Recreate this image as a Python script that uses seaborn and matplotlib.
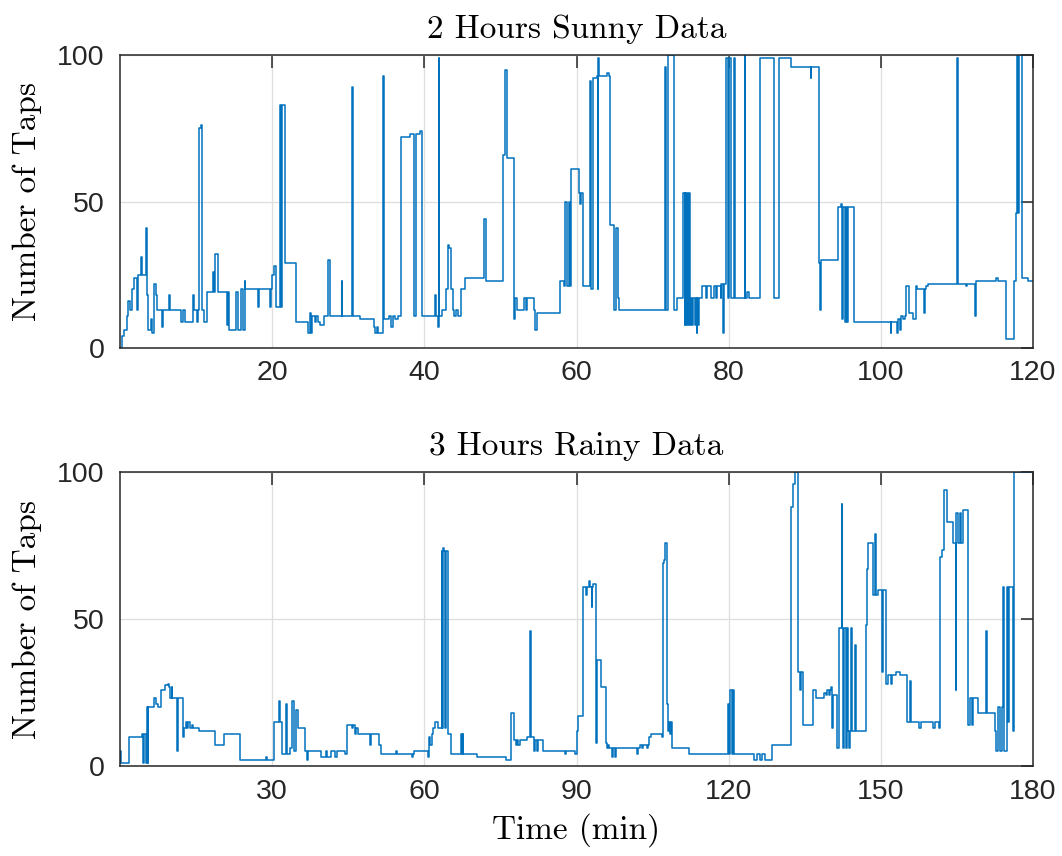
import matplotlib
matplotlib.use("Agg")
import matplotlib.pyplot as plt
import pandas as pd
import seaborn as sns

# Tap counts logged over time (step changes), sunny session
sunny_min = [
    0.0, 0.22, 0.57, 0.87, 1.09, 1.31, 1.62, 1.88, 2.19, 2.41,
    2.76, 2.93, 3.41, 3.50, 3.72, 4.07, 4.24, 4.50, 4.68, 4.81,
    5.47, 5.69, 6.43, 6.56, 8.00, 8.22, 8.53, 9.54, 9.67, 10.06,
    10.28, 10.41, 10.63, 10.80, 11.07, 11.46, 12.16, 12.34, 12.47, 12.90,
    14.00, 14.22, 14.30, 15.31, 15.53, 15.88, 16.19, 16.40, 16.49, 18.15,
    18.24, 19.69, 19.82, 19.99, 20.25, 20.56, 21.00, 21.22, 21.30, 21.74,
    23.14, 24.72, 24.93, 25.15, 25.28, 25.59, 25.81, 26.03, 26.25, 26.82,
    27.34, 27.56, 29.13, 29.22, 30.49, 30.62, 31.50, 33.38, 33.55, 33.75,
    33.90, 34.56, 34.69, 35.30, 35.65, 35.85, 36.10, 36.50, 36.97, 38.10,
    38.58, 38.89, 39.40, 39.72, 41.43, 41.55, 41.75, 41.87, 41.99, 42.35,
    42.80, 43.09, 43.30, 43.44, 43.75, 43.90, 44.20, 44.40, 44.84, 45.28,
    47.90, 48.08, 50.31, 50.61, 50.83, 51.84, 51.97, 52.20, 53.15, 53.37,
    53.50, 54.40, 54.55, 54.80, 57.88, 58.40, 58.53, 58.75, 58.97, 59.10,
    59.27, 60.37, 60.48, 60.58, 60.89, 61.81, 61.90, 62.12, 62.68, 62.77,
    62.86, 62.99, 63.95, 64.30, 64.43, 64.87, 64.96, 65.18, 65.48, 65.62,
    71.61, 71.74, 72.05, 72.75, 73.18, 74.06, 74.20, 74.30, 74.45, 74.55,
    74.70, 74.80, 74.93, 75.02, 75.20, 75.35, 75.60, 75.75, 75.81, 75.90,
    76.00, 76.10, 76.55, 77.08, 77.21, 77.73, 78.08, 78.30, 78.52, 78.96,
    79.05, 79.31, 79.40, 79.70, 79.92, 80.05, 80.27, 80.71, 80.88, 82.11,
    82.20, 82.46, 82.68, 84.08, 85.96, 86.57, 88.23, 90.77, 90.86, 91.87,
    92.00, 92.10, 94.40, 94.71, 94.93, 95.06, 95.24, 95.37, 95.50, 95.67,
    96.46, 101.27, 101.40, 102.06, 102.24, 102.46, 102.68, 102.94, 103.16, 103.29,
    103.68, 104.25, 104.60, 104.78, 105.65, 105.74, 106.00, 106.17, 110.07, 110.20,
    111.20, 111.30, 112.43, 112.56, 115.18, 115.40, 116.50, 117.55, 117.77, 117.90,
    118.03, 118.16, 118.55, 119.30, 120.00,
]
sunny_taps = [
    0, 4, 6, 11, 16, 13, 20, 24, 13, 25,
    31, 25, 41, 18, 6, 10, 5, 22, 18, 13,
    7, 13, 18, 13, 9, 13, 9, 18, 13, 9,
    13, 75, 76, 13, 9, 19, 26, 19, 32, 19,
    8, 19, 6, 19, 6, 20, 6, 23, 20, 14,
    20, 14, 20, 25, 28, 14, 83, 14, 83, 29,
    9, 5, 12, 5, 11, 9, 11, 9, 8, 11,
    30, 11, 23, 11, 89, 11, 10, 7, 5, 7,
    5, 93, 10, 11, 7, 11, 10, 11, 72, 73,
    11, 73, 74, 11, 18, 11, 7, 99, 11, 13,
    20, 35, 34, 20, 13, 11, 13, 11, 20, 24,
    44, 23, 66, 95, 65, 10, 17, 13, 17, 13,
    17, 13, 6, 12, 23, 21, 50, 21, 50, 21,
    61, 53, 49, 53, 21, 91, 20, 92, 93, 20,
    99, 93, 94, 93, 42, 41, 13, 41, 17, 13,
    96, 13, 100, 13, 17, 53, 8, 53, 8, 53,
    8, 53, 8, 17, 8, 17, 8, 17, 5, 17,
    8, 17, 21, 17, 21, 17, 21, 17, 21, 17,
    22, 5, 22, 99, 17, 99, 17, 99, 17, 100,
    17, 19, 17, 99, 17, 99, 96, 92, 96, 29,
    13, 30, 48, 49, 10, 48, 9, 48, 9, 48,
    9, 5, 9, 5, 10, 6, 11, 10, 11, 21,
    12, 10, 21, 20, 12, 20, 21, 22, 99, 22,
    21, 22, 11, 23, 24, 23, 3, 23, 46, 100,
    46, 100, 24, 23, 23,
]

# Tap counts logged over time (step changes), rainy session
rainy_min = [
    0.00, 0.07, 0.20, 1.77, 4.40, 4.60, 4.80, 5.12, 5.26, 5.45,
    5.58, 6.77, 7.10, 7.55, 8.02, 8.87, 9.53, 9.73, 9.86, 10.20,
    10.32, 11.30, 11.50, 12.35, 12.62, 12.95, 13.21, 13.47, 13.73, 14.10,
    14.45, 15.57, 18.73, 20.57, 23.59, 28.80, 28.95, 30.29, 31.40, 31.53,
    31.86, 32.80, 32.93, 33.45, 34.00, 34.26, 34.70, 35.03, 36.46, 36.80,
    37.10, 39.60, 40.54, 40.86, 41.60, 42.38, 42.70, 44.35, 44.68, 45.80,
    46.00, 46.32, 46.52, 46.85, 49.28, 49.41, 51.12, 51.45, 54.47, 54.60,
    57.49, 57.69, 58.02, 60.64, 60.90, 61.17, 61.43, 61.76, 62.10, 62.75,
    63.40, 63.50, 63.73, 63.93, 64.06, 64.26, 64.65, 65.18, 67.15, 67.35,
    67.54, 67.67, 70.30, 76.08, 77.00, 77.73, 77.99, 78.19, 78.52, 78.84,
    80.16, 80.82, 80.95, 81.60, 81.80, 82.13, 82.46, 83.31, 87.72, 87.90,
    89.80, 90.02, 90.20, 91.27, 91.79, 92.00, 92.50, 92.70, 92.98, 93.10,
    93.30, 93.90, 94.09, 94.81, 95.73, 96.06, 96.30, 96.50, 96.92, 97.12,
    97.57, 97.77, 101.98, 102.20, 102.50, 102.83, 103.16, 103.82, 104.15, 104.34,
    104.67, 106.90, 107.10, 107.30, 107.43, 107.89, 108.09, 108.28, 108.42, 108.60,
    108.74, 112.22, 119.90, 120.03, 120.24, 120.57, 120.77, 121.10, 125.04, 125.50,
    126.20, 126.56, 127.14, 128.59, 132.27, 132.73, 133.06, 133.71, 134.04, 134.24,
    134.70, 136.61, 137.13, 138.78, 139.10, 139.37, 139.76, 139.96, 140.15, 140.42,
    140.60, 141.40, 141.80, 142.26, 142.39, 142.59, 142.78, 143.05, 143.24, 143.57,
    143.77, 143.90, 144.10, 144.23, 145.00, 145.20, 146.99, 147.20, 147.50, 148.50,
    148.83, 149.00, 149.50, 150.27, 150.45, 151.06, 151.45, 151.98, 152.24, 152.90,
    153.80, 155.20, 155.73, 155.93, 157.57, 157.90, 160.33, 160.65, 161.50, 161.64,
    161.97, 162.50, 162.95, 164.14, 164.80, 164.90, 165.25, 165.58, 165.90, 166.20,
    167.20, 167.55, 167.88, 168.20, 169.10, 170.80, 171.00, 172.60, 172.80, 173.13,
    173.46, 173.80, 174.10, 174.30, 174.80, 175.10, 175.30, 176.07, 176.20, 180.00,
]
rainy_taps = [
    1, 5, 1, 10, 11, 1, 11, 1, 20, 1,
    20, 23, 21, 20, 26, 27.5, 28, 27, 23, 27,
    23, 5, 23, 10, 13, 15, 13, 15, 13, 14,
    13, 12, 7, 11, 2, 3, 2, 15, 22, 15,
    4, 21, 4, 6, 22, 5, 19, 13, 5, 2,
    5, 3, 5, 3, 5, 3, 5, 4, 14, 13,
    14, 11, 13, 11, 7, 11, 7, 4, 5, 4,
    3, 4, 5, 3, 10, 7, 11, 13, 15, 13,
    73, 13, 74, 73, 13, 73, 11, 4, 11, 4,
    11, 4, 3, 2, 18, 9, 7, 9, 7, 9,
    10, 46, 10, 5, 9, 5, 9, 5, 4, 5,
    4, 12, 17, 61, 58, 61, 63, 61, 54, 61,
    62, 8, 36, 27, 8, 6, 7, 6, 3, 6,
    3, 6, 4, 6, 7, 6, 7, 6, 7, 10,
    11, 10, 69, 70, 76, 21, 12, 15, 11, 15,
    6, 4, 21, 4, 26, 4, 26, 4, 2, 4,
    2, 4, 2, 7, 88, 96, 100, 32, 26, 32,
    14, 26, 23, 25, 24, 26, 24, 26, 27, 13,
    24, 6, 47, 89, 47, 6, 47, 6, 47, 12,
    6, 12, 47, 12, 41, 12, 48, 67, 76, 58,
    79, 58, 60, 32, 60, 28, 31, 28, 31, 32,
    31, 15, 29, 15, 13, 15, 13, 15, 13, 71,
    73.5, 94, 83, 76, 26, 86, 76, 86, 76, 87,
    14, 23, 14, 23, 18, 46, 18, 12, 5, 20,
    5, 20, 61, 5, 61, 15, 61, 12, 100, 100,
]

sunny_xticks = [20, 40, 60, 80, 100, 120]
rainy_xticks = [30, 60, 90, 120, 150, 180]
tap_ticks = [0, 50, 100]

titles = ["2 Hours Sunny Data", "3 Hours Rainy Data"]
y_label = "Number of Taps"
x_label = "Time (min)"

sns.set_theme(style="white")
plt.rcParams["font.family"] = ["Liberation Sans", "DejaVu Sans"]

LINE = "#0072BD"
INK = "#262626"
SERIF = "cmr10"

fig = plt.figure(figsize=(10.62, 8.56), dpi=100)
ax_top = fig.add_axes([0.113, 0.5935, 0.8597, 0.3422])
ax_bot = fig.add_axes([0.113, 0.1051, 0.8597, 0.3435])


def draw(ax, minutes, taps, xmax, xticks, title):
    df = pd.DataFrame({"minute": minutes, "taps": taps})
    sns.lineplot(data=df, x="minute", y="taps", ax=ax, estimator=None,
                 sort=False, drawstyle="steps-post", color=LINE, lw=1.1)
    ax.set_xlim(0, xmax)
    ax.set_ylim(0, 100)
    ax.set_xticks(xticks)
    ax.set_yticks(tap_ticks)
    ax.grid(True, color="#dedede", lw=0.9)
    ax.set_axisbelow(True)
    ax.tick_params(direction="in", length=9, width=1.1, top=True, right=True,
                   labelsize=20.5, colors=INK)
    ax.tick_params(axis="y", pad=11)
    ax.tick_params(axis="x", pad=9)
    for sp in ax.spines.values():
        sp.set_color(INK)
        sp.set_linewidth(1.1)
    ax.set_title(title, fontfamily=SERIF, fontsize=24, color="black", pad=12)
    ax.set_ylabel(y_label, fontfamily=SERIF, fontsize=24, color="black")
    ax.yaxis.set_label_coords(-0.085, 0.5)
    ax.set_xlabel("")


draw(ax_top, sunny_min, sunny_taps, 120, sunny_xticks, titles[0])
draw(ax_bot, rainy_min, rainy_taps, 180, rainy_xticks, titles[1])
ax_bot.set_xlabel(x_label, fontfamily=SERIF, fontsize=24, color="black", labelpad=6)

fig.savefig("out.png", dpi=100)
